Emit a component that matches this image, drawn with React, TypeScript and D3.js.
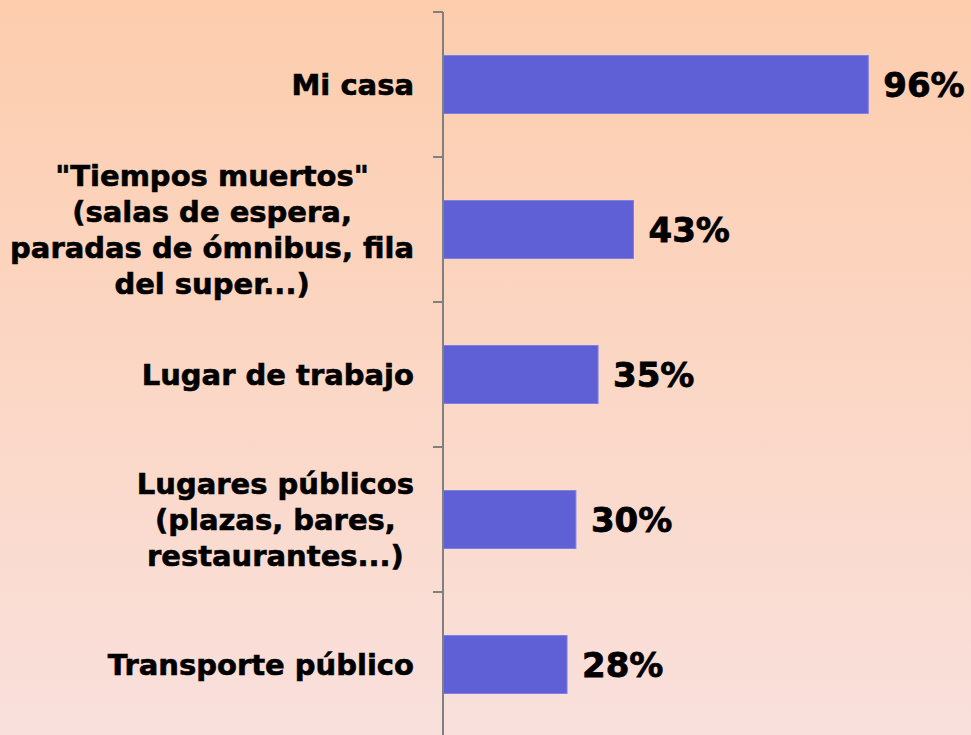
import React, { useEffect, useRef } from "react";
import * as d3 from "d3";

const categories: string[][] = [
  ["Mi casa"],
  ['"Tiempos muertos"', "(salas de espera,", "paradas de ómnibus, fila", "del super...)"],
  ["Lugar de trabajo"],
  ["Lugares públicos", "(plazas, bares,", "restaurantes...)"],
  ["Transporte público"],
];
const values: number[] = [96, 43, 35, 30, 28];

const W = 971;
const H = 735;

export default function App() {
  const ref = useRef<SVGSVGElement | null>(null);

  useEffect(() => {
    document.body.style.margin = "0";
    const svg = d3.select(ref.current);
    svg.selectAll("*").remove();

    const defs = svg.append("defs");
    const grad = defs
      .append("linearGradient")
      .attr("id", "bg")
      .attr("x1", 0)
      .attr("y1", 0)
      .attr("x2", 0)
      .attr("y2", 1);
    grad.append("stop").attr("offset", "0%").attr("stop-color", "#fdcdad");
    grad.append("stop").attr("offset", "100%").attr("stop-color", "#f9e0dc");
    svg.append("rect").attr("width", W).attr("height", H).attr("fill", "url(#bg)");

    const x0 = 443;
    const x = d3.scaleLinear().domain([0, 100]).range([x0, x0 + 443]);
    const idx = categories.map((_, i) => i);
    const y = d3
      .scaleBand<number>()
      .domain(idx)
      .range([12, 737])
      .paddingInner(0.6)
      .paddingOuter(0.3);
    const step = y.step();
    const bandStart = 12;

    // bars
    svg
      .append("g")
      .selectAll("rect")
      .data(values)
      .join("rect")
      .attr("x", x(0))
      .attr("y", (_, i) => y(i)!)
      .attr("width", (d) => x(d) - x(0))
      .attr("height", y.bandwidth())
      .attr("fill", "#5f5fd6")
      .attr("stroke", "#8080e4")
      .attr("stroke-width", 1);

    // axis
    const ax = svg.append("g").attr("stroke", "#808080").attr("stroke-width", 2);
    ax.append("line").attr("x1", x0).attr("x2", x0).attr("y1", bandStart).attr("y2", H + 5);
    d3.range(categories.length + 1).forEach((k) => {
      const yy = bandStart + k * step;
      ax.append("line").attr("x1", x0 - 10).attr("x2", x0).attr("y1", yy).attr("y2", yy);
    });

    // value labels
    svg
      .append("g")
      .selectAll("text")
      .data(values)
      .join("text")
      .attr("x", (d) => x(d) + 15)
      .attr("y", (_, i) => y(i)! + y.bandwidth() / 2)
      .attr("dy", "0.36em")
      .attr("font-family", "DejaVu Sans")
      .attr("font-weight", "bold")
      .attr("font-size", 34)
      .attr("fill", "#000")
      .attr("stroke", "#000")
      .attr("stroke-width", 0.8)
      .text((d) => `${d}%`);

    // category labels
    const lh = 36;
    const lg = svg.append("g");
    categories.forEach((lines, i) => {
      const cy = y(i)! + y.bandwidth() / 2;
      const t = lg
        .append("text")
        .attr("font-family", "DejaVu Sans")
        .attr("font-weight", "bold")
        .attr("font-size", 29)
        .attr("fill", "#000")
        .attr("stroke", "#000")
        .attr("stroke-width", 0.6)
        .attr("text-anchor", "middle");
      const spans = lines.map((ln, j) =>
        t
          .append("tspan")
          .attr("y", cy + (j - (lines.length - 1) / 2) * lh)
          .attr("dy", "0.36em")
          .text(ln)
      );
      let maxW = 0;
      spans.forEach((s) => {
        const n = s.node() as SVGTextContentElement;
        maxW = Math.max(maxW, n.getComputedTextLength());
      });
      const cx = 414 - maxW / 2;
      spans.forEach((s) => s.attr("x", cx));
    });
  }, []);

  return <svg ref={ref} width={W} height={H} style={{ display: "block" }} />;
}
